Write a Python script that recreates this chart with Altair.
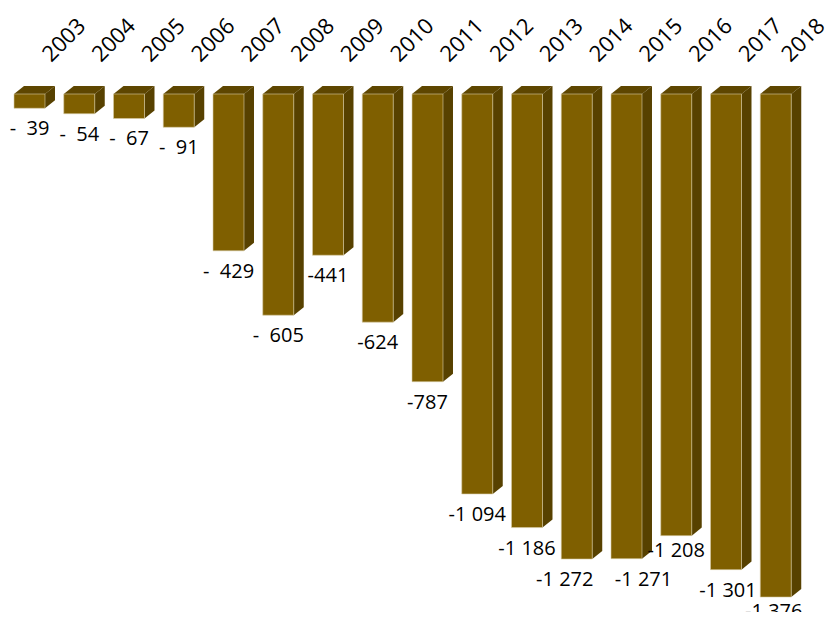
import altair as alt
import pandas as pd

years = [str(y) for y in range(2003, 2019)]
values = [-39, -54, -67, -91, -429, -605, -441, -624, -787,
          -1094, -1186, -1272, -1271, -1208, -1301, -1376]
NB = "\u00a0"
labels = ["-" + NB * 2 + "39", "-" + NB * 2 + "54", "-" + NB * 2 + "67", "-" + NB * 2 + "91",
          "-" + NB * 2 + "429", "-" + NB * 2 + "605", "-441", "-624", "-787",
          "-1 094", "-1 186", "-1 272", "-1 271", "-1 208", "-1 301", "-1 376"]
# label nudges (pixels) where the original moved labels apart
label_nudge = [0, 0, 0, 0, 0, 0, 0, 0, 0, 0, 0, -12, 17, 0, 2, -2]
label_lift = [0, 0, 0, 0, 0, 0, 0, 0, 0, 0, 0, 0, 0, 6, 0, 6]
# year label nudges (pixels) so the last one stays inside the page
year_nudge = [0] * 15 + [-7]

FRONT = "#7F5F00"
SIDE = "#574100"
TOP = "#5E4600"

W = 0.623   # front face width (slot units)
D = 0.201   # depth of the 3D side (slot units)
OFF = 22    # vertical lift of the back face (value units)
PX = 49.75  # pixels per slot
PY = 0.3656 # pixels per value unit

n = len(years)
front = pd.DataFrame({
    "year": years,
    "x0": [i for i in range(n)],
    "x1": [i + W for i in range(n)],
    "xc": [i + W / 2 + label_nudge[i] / PX for i in range(n)],
    "xl": [i + 0.75 + year_nudge[i] / PX for i in range(n)],
    "v": values,
    "vl": [values[i] + label_lift[i] / PY for i in range(n)],
    "zero": [0] * n,
    "label": labels,
})

side_rows = []
top_rows = []
for i, (y, v) in enumerate(zip(years, values)):
    side_rows.append({"year": y, "x": i + W, "lo": v, "hi": 0})
    side_rows.append({"year": y, "x": i + W + D, "lo": v + OFF, "hi": OFF})
    top_rows.append({"year": y, "x": i, "lo": 0, "hi": 0})
    top_rows.append({"year": y, "x": i + D, "lo": 0, "hi": OFF})
    top_rows.append({"year": y, "x": i + W, "lo": 0, "hi": OFF})
    top_rows.append({"year": y, "x": i + W + D, "lo": OFF, "hi": OFF})
side = pd.DataFrame(side_rows)
top = pd.DataFrame(top_rows)

CW = 817
CH = 604
xa = -6 / PX
xdom = [xa, xa + CW / PX]
ydom = [-(CH - 86) / PY, 86 / PY]

xs = alt.Scale(domain=xdom, nice=False, zero=False)
ys = alt.Scale(domain=ydom, nice=False, zero=False)

top_layer = alt.Chart(top).mark_area(color=TOP, interpolate="linear").encode(
    x=alt.X("x:Q", scale=xs, axis=None),
    y=alt.Y("lo:Q", scale=ys, axis=None, stack=False),
    y2="hi:Q",
    detail="year:N",
)

side_layer = alt.Chart(side).mark_area(color=SIDE, interpolate="linear").encode(
    x=alt.X("x:Q", scale=xs, axis=None),
    y=alt.Y("lo:Q", scale=ys, axis=None, stack=False),
    y2="hi:Q",
    detail="year:N",
)

front_layer = alt.Chart(front).mark_rect(
    color=FRONT, stroke="#d8cca6", strokeWidth=0.6
).encode(
    x=alt.X("x0:Q", scale=xs, axis=None),
    x2="x1:Q",
    y=alt.Y("zero:Q", scale=ys, axis=None),
    y2="v:Q",
)

value_text = alt.Chart(front).mark_text(
    font="Open Sans", fontSize=20, color="#000000", baseline="middle", align="center", dy=21
).encode(
    x=alt.X("xc:Q", scale=xs, axis=None),
    y=alt.Y("vl:Q", scale=ys, axis=None),
    text="label:N",
)

year_text = alt.Chart(front).mark_text(
    font="Open Sans", fontSize=22, color="#000000", baseline="alphabetic", align="left", angle=315
).encode(
    x=alt.X("xl:Q", scale=xs, axis=None),
    y=alt.value(55),
    text="year:N",
)

chart = alt.layer(top_layer, side_layer, front_layer, value_text, year_text).properties(
    width=CW, height=CH, padding=0,
    autosize=alt.AutoSizeParams(type="none"),
    background="#ffffff",
).configure_view(stroke=None)

chart.save("out.html", embed_options={"renderer": "svg", "actions": False})
